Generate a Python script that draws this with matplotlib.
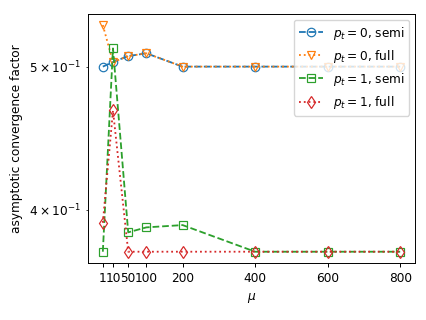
import numpy as np
import matplotlib
matplotlib.use("Agg")
import matplotlib.pyplot as plt

# the reference looks like a slightly larger figure shrunk down, so scale things a bit
s = 0.87
plt.rcParams.update({
    'font.size': 10 * s,
    'lines.linewidth': 1.5 * s,
    'lines.markeredgewidth': 1.0 * s,
    'lines.markersize': 7 * s,
    'axes.linewidth': 0.8 * s,
    'xtick.major.size': 3.5 * s,
    'ytick.major.size': 3.5 * s,
    'ytick.minor.size': 2 * s,
    'xtick.major.width': 0.8 * s,
    'ytick.major.width': 0.8 * s,
    'ytick.minor.width': 0.6 * s,
})

# x positions as they sit on the axis, with the labels printed under them
mu_pos = [-20, 8, 50, 100, 200, 400, 600, 800]
mu_labels = ["1", "10", "50", "100", "200", "400", "600", "800"]

# asymptotic convergence factor
pt0_semi = [0.500, 0.5036, 0.5083, 0.5105, 0.500, 0.500, 0.500, 0.500]
pt0_full = [0.5335, 0.5035, 0.5083, 0.5105, 0.500, 0.500, 0.500, 0.500]
pt1_semi = [0.3745, 0.5144, 0.386, 0.389, 0.3904, 0.3745, 0.3745, 0.3745]
pt1_full = [0.3918, 0.4669, 0.3745, 0.3745, 0.3745, 0.3745, 0.3745, 0.3745]

fig = plt.figure(figsize=(4.27, 3.2), dpi=100)
ax = fig.add_axes([0.206, 0.178, 0.766, 0.779])

ax.plot(mu_pos, pt0_semi, '--', marker='o', mfc='none', color='C0', label=r'$p_t=0$, semi')
ax.plot(mu_pos, pt0_full, ':', marker='v', mfc='none', color='C1', label=r'$p_t=0$, full')
ax.plot(mu_pos, pt1_semi, '--', marker='s', mfc='none', color='C2', label=r'$p_t=1$, semi')
ax.plot(mu_pos, pt1_full, ':', marker='d', mfc='none', color='C3', label=r'$p_t=1$, full')

ax.set_yscale('log')
ax.set_xticks(mu_pos)
ax.set_xticklabels(mu_labels)
ax.set_xlabel(r'$\mu$')
ax.set_ylabel('asymptotic convergence factor')
ax.legend(loc='upper right')

fig.savefig('out.png', dpi=100)
